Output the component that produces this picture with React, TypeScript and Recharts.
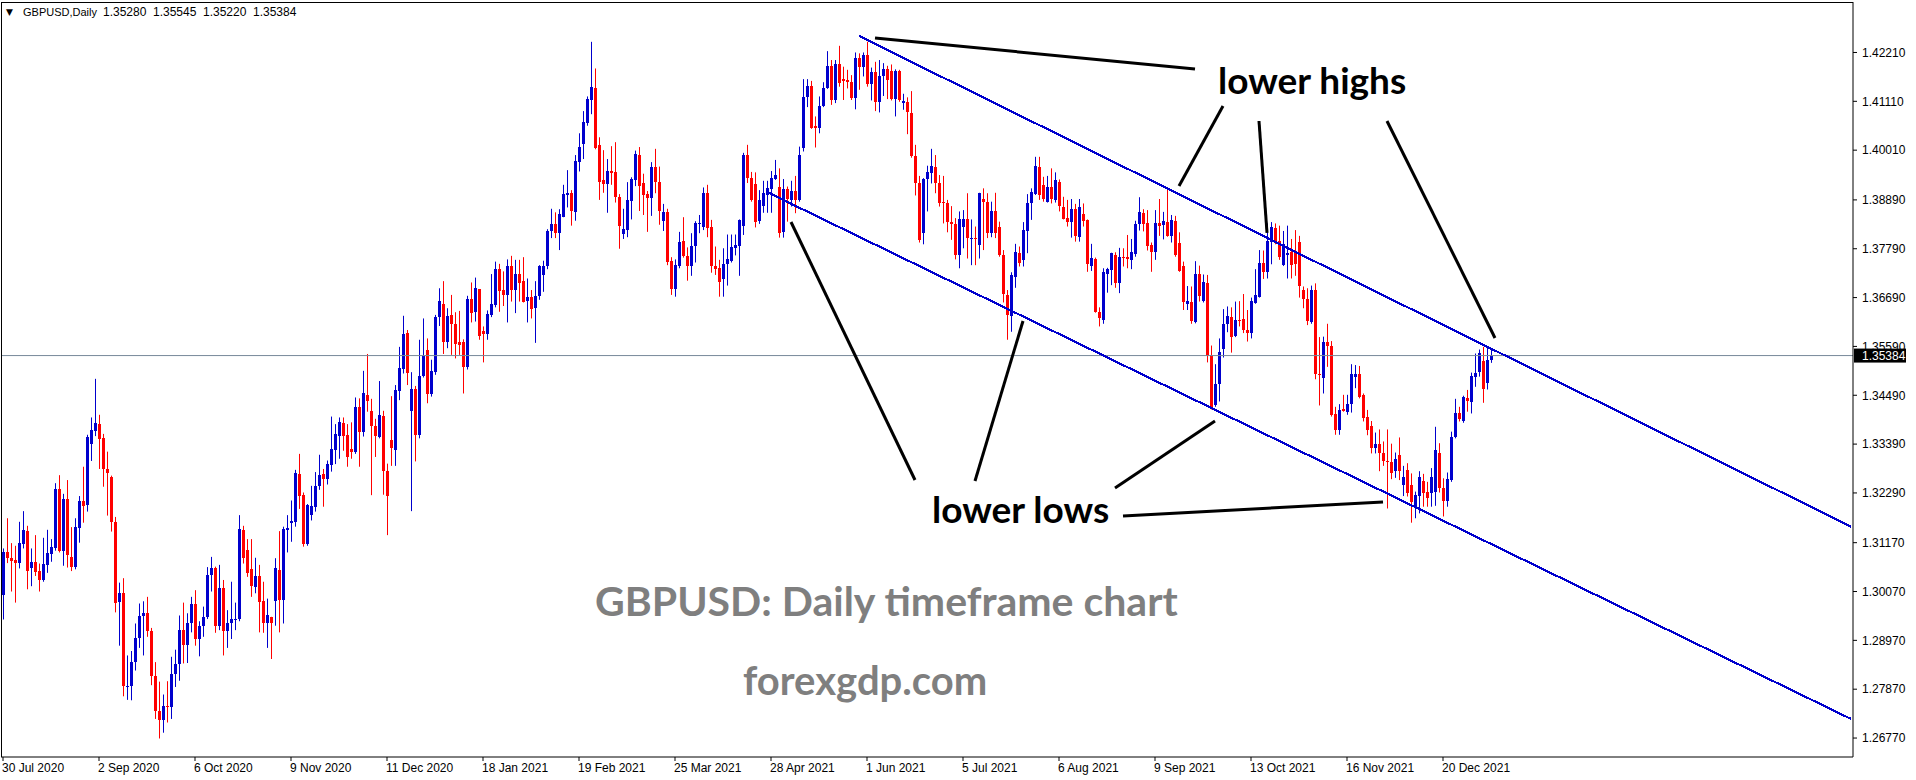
import React from 'react';
import { ComposedChart, Bar, XAxis, YAxis, ReferenceLine } from 'recharts';

const W = 1916;
const H = 780;
const SLOTS = 463; // 373 daily bars + empty space to the right edge

// GBPUSD daily bars, 30 Jul 2020 .. 5 Jan 2022
const opens = [
  1.3000, 1.3096, 1.3083, 1.3078, 1.3072, 1.3113, 1.3143, 1.3061, 1.3073, 1.3053,
  1.3033, 1.3066, 1.3091, 1.3106, 1.3239, 1.3099, 1.3215, 1.3084, 1.3063, 1.3151,
  1.3211, 1.3202, 1.3339, 1.3369, 1.3384, 1.3353, 1.3282, 1.3266, 1.3164, 1.2984,
  1.3003, 1.2795, 1.2795, 1.2848, 1.2903, 1.2952, 1.2958, 1.2918, 1.2817, 1.2737,
  1.2717, 1.2749, 1.2747, 1.2822, 1.2843, 1.2920, 1.2887, 1.2935, 1.2979, 1.2900,
  1.2930, 1.2950, 1.3045, 1.3060, 1.2930, 1.3016, 1.2918, 1.2935, 1.2942, 1.2946,
  1.3146, 1.3100, 1.3057, 1.3018, 1.3043, 1.2986, 1.2935, 1.2950, 1.2986, 1.3055,
  1.2988, 1.3146, 1.3161, 1.3164, 1.3272, 1.3224, 1.3113, 1.3180, 1.3198, 1.3245,
  1.3272, 1.3260, 1.3292, 1.3326, 1.3358, 1.3386, 1.3360, 1.3328, 1.3321, 1.3422,
  1.3367, 1.3450, 1.3414, 1.3380, 1.3356, 1.3402, 1.3278, 1.3348, 1.3326, 1.3459,
  1.3508, 1.3590, 1.3414, 1.3463, 1.3360, 1.3492, 1.3551, 1.3452, 1.3502, 1.3626,
  1.3655, 1.3570, 1.3630, 1.3610, 1.3568, 1.3568, 1.3513, 1.3666, 1.3637, 1.3688,
  1.3594, 1.3587, 1.3630, 1.3652, 1.3733, 1.3686, 1.3675, 1.3740, 1.3686, 1.3722,
  1.3706, 1.3662, 1.3671, 1.3645, 1.3673, 1.3720, 1.3739, 1.3818, 1.3835, 1.3815,
  1.3851, 1.3901, 1.3905, 1.3862, 1.3975, 1.4015, 1.4063, 1.4114, 1.4141, 1.4013,
  1.3934, 1.3925, 1.3954, 1.3952, 1.3896, 1.3812, 1.3821, 1.3887, 1.3934, 1.3990,
  1.3926, 1.3902, 1.3894, 1.3964, 1.3929, 1.3842, 1.3862, 1.3751, 1.3688, 1.3740,
  1.3796, 1.3763, 1.3740, 1.3785, 1.3836, 1.3829, 1.3905, 1.3827, 1.3740, 1.3735,
  1.3711, 1.3745, 1.3752, 1.3781, 1.3785, 1.3831, 1.3990, 1.3939, 1.3925, 1.3842,
  1.3876, 1.3900, 1.3913, 1.3936, 1.3917, 1.3817, 1.3913, 1.3889, 1.3909, 1.3889,
  1.4007, 1.4120, 1.4146, 1.4055, 1.4052, 1.4100, 1.4140, 1.4191, 1.4114, 1.4194,
  1.4161, 1.4159, 1.4154, 1.4119, 1.4209, 1.4189, 1.4215, 1.4150, 1.4176, 1.4109,
  1.4168, 1.4184, 1.4179, 1.4116, 1.4179, 1.4107, 1.4110, 1.4084, 1.3988, 1.3928,
  1.3814, 1.3935, 1.3949, 1.3964, 1.3926, 1.3885, 1.3883, 1.3840, 1.3835, 1.3765,
  1.3827, 1.3846, 1.3802, 1.3803, 1.3787, 1.3890, 1.3885, 1.3815, 1.3864, 1.3827,
  1.3765, 1.3675, 1.3628, 1.3716, 1.3770, 1.3754, 1.3818, 1.3881, 1.3902, 1.3962,
  1.3923, 1.3885, 1.3919, 1.3889, 1.3929, 1.3874, 1.3849, 1.3839, 1.3869, 1.3806,
  1.3857, 1.3844, 1.3740, 1.3756, 1.3636, 1.3619, 1.3722, 1.3730, 1.3765, 1.3701,
  1.3761, 1.3760, 1.3754, 1.3767, 1.3834, 1.3859, 1.3838, 1.3787, 1.3772, 1.3836,
  1.3832, 1.3840, 1.3808, 1.3841, 1.3793, 1.3741, 1.3654, 1.3660, 1.3615, 1.3721,
  1.3661, 1.3701, 1.3540, 1.3426, 1.3474, 1.3553, 1.3610, 1.3626, 1.3583, 1.3619,
  1.3621, 1.3596, 1.3589, 1.3656, 1.3671, 1.3748, 1.3726, 1.3795, 1.3825, 1.3797,
  1.3742, 1.3766, 1.3771, 1.3772, 1.3794, 1.3686, 1.3666, 1.3613, 1.3686, 1.3498,
  1.3489, 1.3568, 1.3561, 1.3406, 1.3371, 1.3418, 1.3411, 1.3429, 1.3491, 1.3498,
  1.3450, 1.3401, 1.3380, 1.3330, 1.3340, 1.3318, 1.3300, 1.3298, 1.3279, 1.3315,
  1.3247, 1.3281, 1.3247, 1.3198, 1.3221, 1.3257, 1.3232, 1.3230, 1.3232, 1.3320,
  1.3240, 1.3210, 1.3258, 1.3354, 1.3408, 1.3390, 1.3442, 1.3434, 1.3490, 1.3501,
  1.3526, 1.3477, 1.3528,
];

const highs = [
  1.3104, 1.3172, 1.3116, 1.3110, 1.3164, 1.3188, 1.3155, 1.3104, 1.3134, 1.3070,
  1.3128, 1.3146, 1.3125, 1.3251, 1.3269, 1.3227, 1.3258, 1.3152, 1.3172, 1.3222,
  1.3288, 1.3360, 1.3399, 1.3486, 1.3405, 1.3362, 1.3322, 1.3268, 1.3175, 1.3027,
  1.3037, 1.2863, 1.2873, 1.2935, 1.2980, 1.2985, 1.2995, 1.2925, 1.2848, 1.2804,
  1.2775, 1.2805, 1.2860, 1.2876, 1.2953, 1.2982, 1.2958, 1.2995, 1.3010, 1.2940,
  1.2973, 1.3062, 1.3085, 1.3063, 1.3067, 1.3033, 1.2965, 1.3029, 1.2982, 1.3179,
  1.3155, 1.3125, 1.3125, 1.3083, 1.3067, 1.3029, 1.2991, 1.2950, 1.3082, 1.3143,
  1.3153, 1.3179, 1.3212, 1.3281, 1.3317, 1.3230, 1.3204, 1.3245, 1.3276, 1.3315,
  1.3283, 1.3302, 1.3401, 1.3384, 1.3399, 1.3399, 1.3384, 1.3388, 1.3444, 1.3442,
  1.3504, 1.3542, 1.3441, 1.3396, 1.3481, 1.3414, 1.3295, 1.3447, 1.3472, 1.3558,
  1.3628, 1.3596, 1.3501, 1.3470, 1.3574, 1.3622, 1.3577, 1.3529, 1.3630, 1.3690,
  1.3706, 1.3645, 1.3675, 1.3636, 1.3639, 1.3575, 1.3673, 1.3703, 1.3714, 1.3688,
  1.3604, 1.3640, 1.3722, 1.3750, 1.3745, 1.3728, 1.3755, 1.3763, 1.3754, 1.3754,
  1.3760, 1.3712, 1.3686, 1.3706, 1.3742, 1.3752, 1.3823, 1.3869, 1.3861, 1.3868,
  1.3923, 1.3956, 1.3911, 1.3990, 1.4039, 1.4089, 1.4122, 1.4245, 1.4185, 1.4030,
  1.4001, 1.3981, 1.4010, 1.4019, 1.3902, 1.3869, 1.3929, 1.3940, 1.4000, 1.4008,
  1.3948, 1.3909, 1.3974, 1.4004, 1.3964, 1.3880, 1.3869, 1.3760, 1.3755, 1.3817,
  1.3850, 1.3782, 1.3814, 1.3841, 1.3855, 1.3917, 1.3923, 1.3844, 1.3784, 1.3754,
  1.3780, 1.3811, 1.3811, 1.3811, 1.3845, 1.3995, 1.4013, 1.3952, 1.3951, 1.3911,
  1.3932, 1.3932, 1.3954, 1.3979, 1.3960, 1.3936, 1.3919, 1.3932, 1.3943, 1.4009,
  1.4161, 1.4161, 1.4157, 1.4077, 1.4122, 1.4154, 1.4224, 1.4204, 1.4204, 1.4236,
  1.4189, 1.4182, 1.4170, 1.4221, 1.4219, 1.4221, 1.4245, 1.4187, 1.4200, 1.4204,
  1.4197, 1.4191, 1.4194, 1.4183, 1.4182, 1.4128, 1.4120, 1.4134, 1.4013, 1.3943,
  1.3938, 1.3966, 1.4004, 1.3990, 1.3945, 1.3943, 1.3889, 1.3875, 1.3848, 1.3863,
  1.3866, 1.3904, 1.3845, 1.3829, 1.3905, 1.3915, 1.3904, 1.3885, 1.3905, 1.3840,
  1.3776, 1.3686, 1.3726, 1.3790, 1.3784, 1.3839, 1.3902, 1.3915, 1.3986, 1.3986,
  1.3941, 1.3943, 1.3960, 1.3951, 1.3935, 1.3896, 1.3889, 1.3891, 1.3880, 1.3891,
  1.3881, 1.3845, 1.3790, 1.3759, 1.3647, 1.3735, 1.3736, 1.3770, 1.3771, 1.3781,
  1.3780, 1.3810, 1.3801, 1.3842, 1.3895, 1.3868, 1.3866, 1.3793, 1.3866, 1.3891,
  1.3862, 1.3913, 1.3855, 1.3853, 1.3816, 1.3750, 1.3695, 1.3694, 1.3751, 1.3741,
  1.3721, 1.3720, 1.3561, 1.3519, 1.3577, 1.3643, 1.3649, 1.3647, 1.3660, 1.3661,
  1.3677, 1.3641, 1.3669, 1.3733, 1.3776, 1.3775, 1.3836, 1.3839, 1.3836, 1.3831,
  1.3819, 1.3831, 1.3801, 1.3821, 1.3808, 1.3694, 1.3690, 1.3696, 1.3701, 1.3580,
  1.3581, 1.3610, 1.3571, 1.3423, 1.3429, 1.3450, 1.3450, 1.3519, 1.3517, 1.3515,
  1.3453, 1.3416, 1.3391, 1.3365, 1.3372, 1.3345, 1.3372, 1.3340, 1.3320, 1.3354,
  1.3290, 1.3296, 1.3273, 1.3232, 1.3278, 1.3272, 1.3254, 1.3285, 1.3378, 1.3341,
  1.3262, 1.3275, 1.3367, 1.3441, 1.3423, 1.3448, 1.3461, 1.3500, 1.3543, 1.3552,
  1.3558, 1.3558, 1.35545,
];

const lows = [
  1.2944, 1.3071, 1.3007, 1.2982, 1.3059, 1.3104, 1.3012, 1.3019, 1.3042, 1.3007,
  1.3029, 1.3049, 1.3074, 1.3099, 1.3095, 1.3065, 1.3061, 1.3053, 1.3057, 1.3117,
  1.3162, 1.3187, 1.3301, 1.3357, 1.3283, 1.3243, 1.3178, 1.3142, 1.2960, 1.2885,
  1.2771, 1.2763, 1.2762, 1.2829, 1.2880, 1.2863, 1.2905, 1.2796, 1.2720, 1.2676,
  1.2689, 1.2712, 1.2720, 1.2792, 1.2806, 1.2845, 1.2846, 1.2915, 1.2885, 1.2861,
  1.2905, 1.2945, 1.3007, 1.2914, 1.2920, 1.2863, 1.2880, 1.2900, 1.2920, 1.2940,
  1.3070, 1.3040, 1.2995, 1.3003, 1.2915, 1.2914, 1.2880, 1.2855, 1.2930, 1.2915,
  1.2935, 1.3095, 1.3119, 1.3153, 1.3193, 1.3108, 1.3110, 1.3167, 1.3187, 1.3236,
  1.3198, 1.3248, 1.3277, 1.3294, 1.3306, 1.3324, 1.3288, 1.3306, 1.3317, 1.3288,
  1.3356, 1.3412, 1.3224, 1.3310, 1.3352, 1.3225, 1.3134, 1.3290, 1.3290, 1.3438,
  1.3498, 1.3472, 1.3188, 1.3300, 1.3352, 1.3489, 1.3431, 1.3446, 1.3495, 1.3605,
  1.3542, 1.3555, 1.3540, 1.3532, 1.3540, 1.3453, 1.3507, 1.3613, 1.3615, 1.3574,
  1.3523, 1.3574, 1.3625, 1.3647, 1.3637, 1.3650, 1.3613, 1.3660, 1.3634, 1.3660,
  1.3658, 1.3613, 1.3622, 1.3567, 1.3664, 1.3682, 1.3733, 1.3803, 1.3803, 1.3776,
  1.3850, 1.3872, 1.3831, 1.3842, 1.3953, 1.3981, 1.4056, 1.4082, 1.4003, 1.3889,
  1.3905, 1.3860, 1.3923, 1.3883, 1.3779, 1.3801, 1.3805, 1.3845, 1.3920, 1.3864,
  1.3855, 1.3817, 1.3853, 1.3904, 1.3833, 1.3819, 1.3742, 1.3675, 1.3671, 1.3735,
  1.3759, 1.3707, 1.3718, 1.3748, 1.3814, 1.3821, 1.3805, 1.3725, 1.3720, 1.3671,
  1.3671, 1.3696, 1.3748, 1.3764, 1.3718, 1.3810, 1.3927, 1.3885, 1.3827, 1.3835,
  1.3860, 1.3860, 1.3860, 1.3934, 1.3804, 1.3804, 1.3840, 1.3874, 1.3859, 1.3885,
  1.3998, 1.4098, 1.4049, 1.4007, 1.4039, 1.4098, 1.4139, 1.4103, 1.4107, 1.4144,
  1.4114, 1.4140, 1.4114, 1.4093, 1.4137, 1.4167, 1.4144, 1.4113, 1.4089, 1.4086,
  1.4123, 1.4116, 1.4113, 1.4077, 1.4110, 1.4092, 1.4037, 1.3984, 1.3899, 1.3793,
  1.3789, 1.3863, 1.3926, 1.3904, 1.3874, 1.3836, 1.3816, 1.3799, 1.3755, 1.3735,
  1.3780, 1.3757, 1.3742, 1.3742, 1.3757, 1.3776, 1.3803, 1.3805, 1.3803, 1.3761,
  1.3658, 1.3574, 1.3592, 1.3691, 1.3739, 1.3739, 1.3769, 1.3844, 1.3900, 1.3889,
  1.3885, 1.3883, 1.3881, 1.3883, 1.3863, 1.3845, 1.3829, 1.3804, 1.3795, 1.3795,
  1.3829, 1.3727, 1.3729, 1.3635, 1.3604, 1.3610, 1.3680, 1.3697, 1.3691, 1.3679,
  1.3739, 1.3735, 1.3733, 1.3761, 1.3820, 1.3818, 1.3775, 1.3727, 1.3754, 1.3808,
  1.3800, 1.3806, 1.3793, 1.3761, 1.3727, 1.3641, 1.3641, 1.3610, 1.3611, 1.3660,
  1.3658, 1.3523, 1.3417, 1.3423, 1.3435, 1.3534, 1.3591, 1.3545, 1.3580, 1.3604,
  1.3589, 1.3570, 1.3577, 1.3655, 1.3669, 1.3711, 1.3712, 1.3744, 1.3789, 1.3754,
  1.3740, 1.3712, 1.3712, 1.3718, 1.3669, 1.3645, 1.3607, 1.3610, 1.3485, 1.3426,
  1.3453, 1.3513, 1.3401, 1.3360, 1.3360, 1.3412, 1.3405, 1.3410, 1.3465, 1.3442,
  1.3390, 1.3359, 1.3318, 1.3318, 1.3278, 1.3290, 1.3194, 1.3260, 1.3263, 1.3258,
  1.3222, 1.3221, 1.3162, 1.3172, 1.3183, 1.3198, 1.3198, 1.3198, 1.3200, 1.3230,
  1.3176, 1.3198, 1.3254, 1.3352, 1.3390, 1.3387, 1.3412, 1.3408, 1.3468, 1.3491,
  1.3432, 1.3462, 1.3522,
];

const closes = [
  1.3097, 1.3083, 1.3076, 1.3072, 1.3116, 1.3146, 1.3054, 1.3073, 1.3050, 1.3033,
  1.3068, 1.3093, 1.3107, 1.3239, 1.3099, 1.3215, 1.3089, 1.3063, 1.3152, 1.3211,
  1.3200, 1.3356, 1.3371, 1.3387, 1.3350, 1.3282, 1.3275, 1.3164, 1.2982, 1.3003,
  1.2795, 1.2795, 1.2848, 1.2903, 1.2952, 1.2958, 1.2918, 1.2817, 1.2737, 1.2717,
  1.2749, 1.2747, 1.2822, 1.2843, 1.2920, 1.2887, 1.2935, 1.2979, 1.2900, 1.2930,
  1.2950, 1.3045, 1.3060, 1.2930, 1.3016, 1.2918, 1.2935, 1.2946, 1.2946, 1.3148,
  1.3082, 1.3048, 1.3019, 1.3043, 1.2984, 1.2935, 1.2954, 1.2935, 1.3059, 1.2988,
  1.3147, 1.3151, 1.3166, 1.3273, 1.3222, 1.3113, 1.3202, 1.3200, 1.3245, 1.3270,
  1.3260, 1.3294, 1.3327, 1.3362, 1.3388, 1.3358, 1.3311, 1.3322, 1.3422, 1.3367,
  1.3453, 1.3437, 1.3380, 1.3358, 1.3405, 1.3278, 1.3222, 1.3330, 1.3461, 1.3510,
  1.3587, 1.3500, 1.3463, 1.3360, 1.3492, 1.3538, 1.3452, 1.3504, 1.3626, 1.3661,
  1.3570, 1.3628, 1.3610, 1.3565, 1.3562, 1.3513, 1.3666, 1.3635, 1.3691, 1.3583,
  1.3587, 1.3632, 1.3655, 1.3733, 1.3684, 1.3675, 1.3740, 1.3686, 1.3722, 1.3701,
  1.3660, 1.3670, 1.3643, 1.3673, 1.3740, 1.3740, 1.3819, 1.3835, 1.3815, 1.3857,
  1.3902, 1.3905, 1.3865, 1.3977, 1.4009, 1.4065, 1.4116, 1.4143, 1.4007, 1.3929,
  1.3925, 1.3954, 1.3950, 1.3896, 1.3830, 1.3824, 1.3889, 1.3936, 1.3992, 1.3921,
  1.3900, 1.3894, 1.3964, 1.3929, 1.3864, 1.3862, 1.3750, 1.3688, 1.3742, 1.3795,
  1.3763, 1.3740, 1.3785, 1.3838, 1.3838, 1.3905, 1.3825, 1.3740, 1.3734, 1.3705,
  1.3745, 1.3756, 1.3782, 1.3788, 1.3844, 1.3990, 1.3939, 1.3889, 1.3840, 1.3889,
  1.3904, 1.3915, 1.3938, 1.3945, 1.3815, 1.3913, 1.3890, 1.3909, 1.3889, 1.3990,
  1.4120, 1.4146, 1.4052, 1.4052, 1.4100, 1.4140, 1.4191, 1.4114, 1.4194, 1.4153,
  1.4157, 1.4154, 1.4119, 1.4208, 1.4189, 1.4215, 1.4150, 1.4176, 1.4109, 1.4168,
  1.4184, 1.4158, 1.4116, 1.4179, 1.4114, 1.4112, 1.4086, 1.3988, 1.3928, 1.3799,
  1.3935, 1.3951, 1.3966, 1.3926, 1.3883, 1.3883, 1.3839, 1.3835, 1.3765, 1.3846,
  1.3846, 1.3803, 1.3803, 1.3801, 1.3904, 1.3885, 1.3815, 1.3864, 1.3814, 1.3765,
  1.3677, 1.3630, 1.3720, 1.3772, 1.3748, 1.3821, 1.3881, 1.3906, 1.3966, 1.3900,
  1.3890, 1.3919, 1.3890, 1.3934, 1.3875, 1.3846, 1.3839, 1.3869, 1.3808, 1.3874,
  1.3842, 1.3745, 1.3759, 1.3636, 1.3624, 1.3727, 1.3733, 1.3769, 1.3701, 1.3760,
  1.3759, 1.3757, 1.3772, 1.3835, 1.3861, 1.3834, 1.3785, 1.3772, 1.3838, 1.3830,
  1.3841, 1.3808, 1.3844, 1.3765, 1.3729, 1.3660, 1.3661, 1.3616, 1.3721, 1.3673,
  1.3703, 1.3538, 1.3423, 1.3474, 1.3546, 1.3610, 1.3628, 1.3581, 1.3619, 1.3616,
  1.3595, 1.3589, 1.3661, 1.3675, 1.3746, 1.3727, 1.3797, 1.3827, 1.3797, 1.3761,
  1.3790, 1.3770, 1.3742, 1.3744, 1.3694, 1.3666, 1.3616, 1.3686, 1.3498, 1.3496,
  1.3568, 1.3559, 1.3405, 1.3371, 1.3416, 1.3414, 1.3429, 1.3497, 1.3498, 1.3446,
  1.3397, 1.3371, 1.3330, 1.3340, 1.3318, 1.3300, 1.3298, 1.3275, 1.3305, 1.3279,
  1.3266, 1.3230, 1.3209, 1.3224, 1.3264, 1.3230, 1.3217, 1.3264, 1.3326, 1.3240,
  1.3210, 1.3260, 1.3354, 1.3408, 1.3395, 1.3446, 1.3436, 1.3492, 1.3500, 1.3544,
  1.3462, 1.3528, 1.35384,
];

const tickIndex = [0, 24, 48, 72, 96, 120, 144, 168, 192, 216, 240, 264, 288, 312, 336, 360];
const tickLabels = [
  '30 Jul 2020', '2 Sep 2020', '6 Oct 2020', '9 Nov 2020', '11 Dec 2020', '18 Jan 2021',
  '19 Feb 2021', '25 Mar 2021', '28 Apr 2021', '1 Jun 2021', '5 Jul 2021', '6 Aug 2021',
  '9 Sep 2021', '13 Oct 2021', '16 Nov 2021', '20 Dec 2021',
];
const priceTicks = [
  1.2677, 1.2787, 1.2897, 1.3007, 1.3117, 1.3229, 1.3339, 1.3449,
  1.3559, 1.3669, 1.3779, 1.3889, 1.4001, 1.4111, 1.4221,
];
const lastPrice = 1.35384;
const headerValues = ['1.35280', '1.35545', '1.35220', '1.35384'];

// drawn objects, as [bar index, price] pairs
const channelLines = [
  [[214, 1.42582], [462, 1.31532]],
  [[191, 1.39068], [462, 1.2720]],
];
const pointerLines = [
  [[218, 1.42537], [298, 1.41838]],
  [[305, 1.41005], [294, 1.39203]],
  [[314, 1.40667], [316, 1.38145]],
  [[346, 1.40667], [373, 1.3578]],
  [[197, 1.38392], [228, 1.32582]],
  [[255, 1.36163], [243, 1.3256]],
  [[278, 1.32401], [303, 1.3391]],
  [[280, 1.31771], [345, 1.32086]],
];

const BULL = '#0000CD';
const BEAR = '#FF0000';
const AXIS_FONT = "'Liberation Sans', Arial, sans-serif";
const NOTE_FONT = "Lato, 'Open Sans', sans-serif";

const labelFor: Record<number, string> = {};
tickIndex.forEach((t, k) => { labelFor[t] = tickLabels[k]; });

const Candle = (props: any) => {
  const { x, width, payload } = props;
  let { y, height } = props;
  if (!payload || payload.o === undefined) return null;
  if (height < 0) { y += height; height = -height; }
  const [lo, hi] = payload.range;
  const span = hi - lo || 1e-9;
  const py = (v: number) => y + ((hi - v) / span) * height;
  const cx = Math.round(x + width / 2) + 0.5;
  const color = payload.c >= payload.o ? BULL : BEAR;
  const top = py(Math.max(payload.o, payload.c));
  const bot = py(Math.min(payload.o, payload.c));
  return (
    <g>
      <line x1={cx} x2={cx} y1={y} y2={y + height} stroke={color} strokeWidth={1} />
      <rect x={cx - 1.5} y={top} width={3} height={Math.max(1, bot - top)} fill={color} shapeRendering="crispEdges" />
    </g>
  );
};

const DateTick = (props: any) => {
  const { x, y, payload } = props;
  return (
    <text x={x - 1} y={y} dy="0.71em" textAnchor="start" fontSize={12} fontFamily={AXIS_FONT} fill="#000">
      {labelFor[payload.value]}
    </text>
  );
};

const PriceTag = (props: any) => {
  const { viewBox } = props;
  const x = viewBox.x + viewBox.width;
  const y = viewBox.y;
  return (
    <g>
      <rect x={x + 1} y={y - 7} width={52} height={14} fill="#000" />
      <text x={x + 9} y={y + 4.5} fontSize={12} fontFamily={AXIS_FONT} fill="#fff">
        {lastPrice.toFixed(5)}
      </text>
    </g>
  );
};

export default function App() {
  const data = Array.from({ length: SLOTS }, (_, i) =>
    i < opens.length
      ? { i, range: [lows[i], highs[i]], o: opens[i], c: closes[i] }
      : { i }
  );

  return (
    <div style={{ position: 'relative', width: W, height: H, background: '#fff' }}>
      <style>{'body{margin:0;background:#fff}'}</style>
      <ComposedChart width={W} height={H} data={data} margin={{ top: 2, right: 0, bottom: 0, left: 1 }}>
        <XAxis
          dataKey="i"
          type="category"
          ticks={tickIndex}
          interval={0}
          height={23}
          tickSize={4}
          tickMargin={2}
          axisLine={{ stroke: '#000' }}
          tickLine={{ stroke: '#000' }}
          tick={<DateTick />}
        />
        <YAxis
          orientation="right"
          type="number"
          width={63}
          domain={[1.26343, 1.43347]}
          allowDataOverflow
          ticks={priceTicks}
          interval={0}
          tickFormatter={(v: number) => v.toFixed(5)}
          tickSize={4}
          tickMargin={5}
          axisLine={{ stroke: '#000' }}
          tickLine={{ stroke: '#000' }}
          tick={{ fontSize: 12, fill: '#000', fontFamily: AXIS_FONT }}
        />
        <ReferenceLine y={lastPrice} stroke="#778899" strokeWidth={1} label={<PriceTag />} />
        <Bar dataKey="range" shape={<Candle />} isAnimationActive={false} />
        {channelLines.map((seg, k) => (
          <ReferenceLine
            key={'ch' + k}
            segment={[{ x: seg[0][0], y: seg[0][1] }, { x: seg[1][0], y: seg[1][1] }]}
            stroke={BULL}
            strokeWidth={2.2}
            shapeRendering="crispEdges"
            ifOverflow="visible"
          />
        ))}
        {pointerLines.map((seg, k) => (
          <ReferenceLine
            key={'pl' + k}
            segment={[{ x: seg[0][0], y: seg[0][1] }, { x: seg[1][0], y: seg[1][1] }]}
            stroke="#000"
            strokeWidth={3}
            ifOverflow="visible"
          />
        ))}
      </ComposedChart>
      <svg width={W} height={H} style={{ position: 'absolute', left: 0, top: 0, pointerEvents: 'none' }}>
        <line x1={1.5} x2={1.5} y1={2} y2={757} stroke="#000" />
        <line x1={1} x2={1853} y1={2.5} y2={2.5} stroke="#000" />
        <rect x={3} y={4} width={296} height={14} fill="#fff" />
        <text x={6} y={15} fontSize={9} fontFamily="'DejaVu Sans', sans-serif" fill="#000">▼</text>
        <text x={23} y={16} fontSize={11} fontFamily={AXIS_FONT} fill="#000">GBPUSD,Daily</text>
        {headerValues.map((v, k) => (
          <text key={v + k} x={103 + k * 50} y={16} fontSize={12} fontFamily={AXIS_FONT} fill="#000">{v}</text>
        ))}
        <text x={1218} y={94} fontSize={37} fontWeight={700} fontFamily={NOTE_FONT} fill="#000">lower highs</text>
        <text x={932} y={523} fontSize={37} fontWeight={700} fontFamily={NOTE_FONT} fill="#000">lower lows</text>
        <text x={595} y={616} fontSize={41} fontWeight={700} fontFamily={NOTE_FONT} fill="#7f7f7f">GBPUSD: Daily timeframe chart</text>
        <text x={743} y={695} fontSize={40} fontWeight={700} fontFamily={NOTE_FONT} fill="#7f7f7f">forexgdp.com</text>
      </svg>
    </div>
  );
}
